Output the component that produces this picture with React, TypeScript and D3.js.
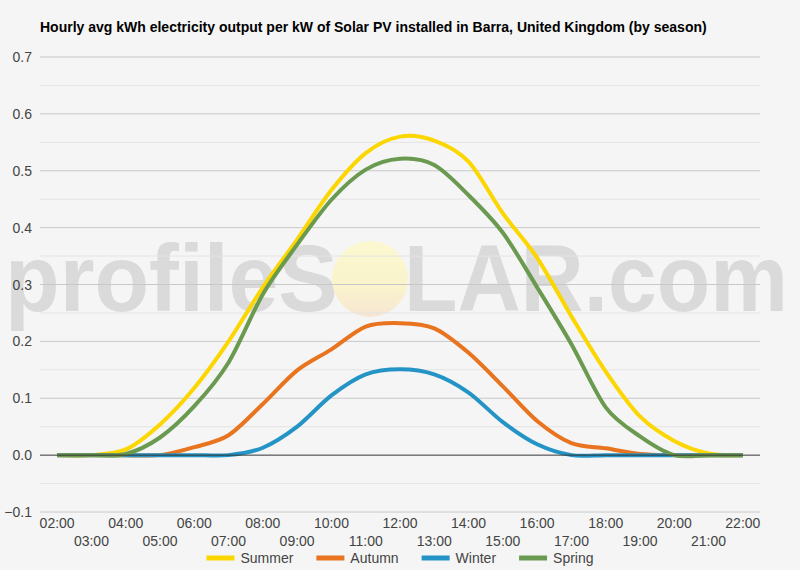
import { useEffect, useRef } from "react";
import * as d3 from "d3";

const hours = [
  "02:00", "03:00", "04:00", "05:00", "06:00", "07:00", "08:00", "09:00", "10:00", "11:00",
  "12:00", "13:00", "14:00", "15:00", "16:00", "17:00", "18:00", "19:00", "20:00", "21:00", "22:00",
];

const summer = [0, 0, 0.01, 0.054, 0.118, 0.2, 0.295, 0.379, 0.466, 0.531, 0.56, 0.553, 0.516, 0.425, 0.347, 0.244, 0.147, 0.068, 0.025, 0.003, 0];
const autumn = [0, 0, 0, 0, 0.014, 0.035, 0.09, 0.149, 0.186, 0.226, 0.232, 0.223, 0.18, 0.121, 0.06, 0.021, 0.012, 0.002, 0, 0, 0];
const winter = [0, 0, 0, 0, 0, 0, 0.013, 0.05, 0.105, 0.142, 0.151, 0.142, 0.11, 0.058, 0.019, 0, 0, 0, 0, 0, 0];
const spring = [0, 0, 0.002, 0.031, 0.086, 0.163, 0.283, 0.37, 0.449, 0.502, 0.521, 0.51, 0.457, 0.391, 0.295, 0.195, 0.084, 0.033, 0, 0, 0];

const seriesNames = ["Summer", "Autumn", "Winter", "Spring"];
const seriesColors = ["#fcd600", "#e8741f", "#2494c6", "#6a9a4f"];
const seriesValues = [summer, autumn, winter, spring];

const yTicks = [-0.1, 0, 0.1, 0.2, 0.3, 0.4, 0.5, 0.6, 0.7];
const yMinorTicks = [-0.05, 0.05, 0.15, 0.25, 0.35, 0.45, 0.55, 0.65];

const title =
  "Hourly avg kWh electricity output per kW of Solar PV installed in Barra, United Kingdom (by season)";

export default function App() {
  const svgRef = useRef<SVGSVGElement>(null);
  const width = 800;
  const height = 570;
  const plot = { left: 40, right: 760, top: 57, bottom: 512 };

  useEffect(() => {
    if (!svgRef.current) return;
    const svg = d3.select(svgRef.current);
    svg.selectAll("*").remove();

    const font = "Arial, 'Liberation Sans', sans-serif";

    const x = d3.scalePoint<string>().domain(hours).range([plot.left, plot.right]).padding(0.5);
    const y = d3.scaleLinear().domain([-0.1, 0.7]).range([plot.bottom, plot.top]);

    svg.append("rect").attr("width", width).attr("height", height).attr("fill", "#f5f5f5");

    // watermark
    const wm = svg
      .append("g")
      .attr("font-family", font)
      .attr("font-size", 94)
      .attr("font-weight", "bold")
      .attr("fill", "#dadada");
    wm.append("text")
      .attr("x", 5)
      .attr("y", 311)
      .attr("textLength", 333)
      .attr("lengthAdjust", "spacingAndGlyphs")
      .text("profileS");
    const grad = svg.append("defs").append("linearGradient").attr("id", "sun").attr("x1", 0).attr("y1", 0).attr("x2", 0).attr("y2", 1);
    grad.append("stop").attr("offset", "0%").attr("stop-color", "#fbf8d0");
    grad.append("stop").attr("offset", "60%").attr("stop-color", "#faf3cc");
    grad.append("stop").attr("offset", "100%").attr("stop-color", "#f6e6d3");
    wm.append("circle").attr("cx", 370).attr("cy", 279).attr("r", 38).attr("fill", "url(#sun)");
    wm.append("text")
      .attr("x", 404)
      .attr("y", 311)
      .attr("textLength", 384)
      .attr("lengthAdjust", "spacingAndGlyphs")
      .text("LAR.com");

    // gridlines
    svg.append("g")
      .selectAll("line")
      .data(yMinorTicks)
      .join("line")
      .attr("x1", plot.left)
      .attr("x2", plot.right)
      .attr("y1", (d) => y(d))
      .attr("y2", (d) => y(d))
      .attr("stroke", "#e4e4e4")
      .attr("stroke-width", 1);

    svg.append("g")
      .selectAll("line")
      .data(yTicks.filter((d) => d !== 0))
      .join("line")
      .attr("x1", plot.left)
      .attr("x2", plot.right)
      .attr("y1", (d) => y(d))
      .attr("y2", (d) => y(d))
      .attr("stroke", "#c8c8c8")
      .attr("stroke-width", 1);

    // y labels
    svg.append("g")
      .attr("font-family", font)
      .attr("font-size", 14)
      .attr("fill", "#444")
      .selectAll("text")
      .data(yTicks)
      .join("text")
      .attr("x", 32)
      .attr("y", (d) => y(d) + 5)
      .attr("text-anchor", "end")
      .text((d) => d3.format(".1f")(d));

    // x labels in two rows
    svg.append("g")
      .attr("font-family", font)
      .attr("font-size", 14)
      .attr("fill", "#444")
      .selectAll("text")
      .data(hours)
      .join("text")
      .attr("x", (d) => x(d)!)
      .attr("y", (_, i) => (i % 2 === 0 ? 528 : 546))
      .attr("text-anchor", "middle")
      .text((d) => d);

    // lines
    const line = d3
      .line<number>()
      .x((_, i) => x(hours[i])!)
      .y((d) => y(d))
      .curve(d3.curveCardinal.tension(0.1));

    svg.append("g")
      .selectAll("path")
      .data(seriesValues)
      .join("path")
      .attr("fill", "none")
      .attr("stroke", (_, i) => seriesColors[i])
      .attr("stroke-width", 4)
      .attr("stroke-linejoin", "round")
      .attr("d", (d) => line(d));

    // zero baseline
    svg.append("line")
      .attr("x1", plot.left)
      .attr("x2", plot.right)
      .attr("y1", y(0))
      .attr("y2", y(0))
      .attr("stroke", "#333")
      .attr("stroke-width", 1);

    // title
    svg.append("text")
      .attr("x", 40)
      .attr("y", 32)
      .attr("font-family", font)
      .attr("font-size", 14)
      .attr("font-weight", "bold")
      .attr("fill", "#000")
      .text(title);

    // legend
    const legend = svg.append("g").attr("font-family", font).attr("font-size", 14).attr("fill", "#444");
    const items = seriesNames.map((name, i) => {
      const g = legend.append("g");
      g.append("line")
        .attr("x1", 0)
        .attr("x2", 28)
        .attr("y1", 0)
        .attr("y2", 0)
        .attr("stroke", seriesColors[i])
        .attr("stroke-width", 5);
      const t = g.append("text").attr("x", 34).attr("y", 5).text(name);
      const w = 34 + (t.node() as SVGTextElement).getComputedTextLength();
      return { g, w };
    });
    const gap = 23;
    const total = d3.sum(items, (d) => d.w) + gap * (items.length - 1);
    let cx = (plot.left + plot.right) / 2 - total / 2;
    items.forEach((it) => {
      it.g.attr("transform", `translate(${cx}, 558)`);
      cx += it.w + gap;
    });
  }, []);

  return (
    <svg
      ref={svgRef}
      width={width}
      height={height}
      style={{ position: "absolute", left: 0, top: 0, display: "block" }}
    />
  );
}
